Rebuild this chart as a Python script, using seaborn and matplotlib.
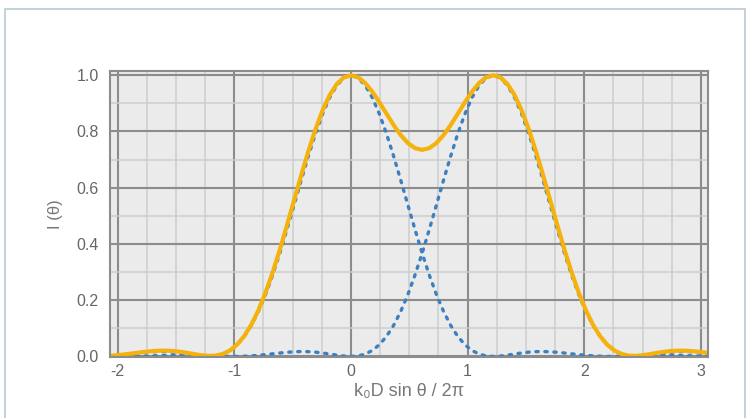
import numpy as np
import pandas as pd
import matplotlib
matplotlib.use("Agg")
import matplotlib.pyplot as plt
from matplotlib.patches import Rectangle
from matplotlib.ticker import MultipleLocator
import seaborn as sns

# sample positions along k0 D sin(theta) / 2pi
x_vals = [-2.074, -2.013, -1.952, -1.891, -1.830, -1.769, -1.708, -1.647, -1.586, -1.525,
          -1.464, -1.403, -1.342, -1.281, -1.220, -1.159, -1.098, -1.037, -0.976, -0.915,
          -0.854, -0.793, -0.732, -0.671, -0.610, -0.549, -0.488, -0.427, -0.366, -0.305,
          -0.244, -0.183, -0.122, -0.061, 0.000, 0.061, 0.122, 0.183, 0.244, 0.305,
          0.366, 0.427, 0.488, 0.549, 0.610, 0.671, 0.732, 0.793, 0.854, 0.915,
          0.976, 1.037, 1.098, 1.159, 1.220, 1.281, 1.342, 1.403, 1.464, 1.525,
          1.586, 1.647, 1.708, 1.769, 1.830, 1.891, 1.952, 2.013, 2.074, 2.135,
          2.196, 2.257, 2.318, 2.379, 2.440, 2.501, 2.562, 2.623, 2.684, 2.745,
          2.806, 2.867, 2.928, 2.989, 3.050, 3.111]

# source centred at 0 (dotted)
source_a = [0.0021, 0.0041, 0.0066, 0.0094, 0.0122, 0.0148, 0.0166, 0.0175, 0.0171, 0.0154,
            0.0124, 0.0087, 0.0047, 0.0014, 0.0000, 0.0018, 0.0084, 0.0213, 0.0419, 0.0715,
            0.1109, 0.1606, 0.2205, 0.2898, 0.3673, 0.4509, 0.5382, 0.6262, 0.7116, 0.7913,
            0.8618, 0.9202, 0.9638, 0.9909, 1.0000, 0.9909, 0.9638, 0.9202, 0.8618, 0.7913,
            0.7116, 0.6262, 0.5382, 0.4509, 0.3673, 0.2898, 0.2205, 0.1606, 0.1109, 0.0715,
            0.0419, 0.0213, 0.0084, 0.0018, 0.0000, 0.0014, 0.0047, 0.0087, 0.0124, 0.0154,
            0.0171, 0.0175, 0.0166, 0.0148, 0.0122, 0.0094, 0.0066, 0.0041, 0.0021, 0.0008,
            0.0001, 0.0000, 0.0005, 0.0012, 0.0021, 0.0029, 0.0036, 0.0040, 0.0042, 0.0040,
            0.0036, 0.0029, 0.0022, 0.0015, 0.0009, 0.0004]

# source centred at 1.22 (dotted)
source_b = [0.0001, 0.0000, 0.0001, 0.0004, 0.0009, 0.0015, 0.0022, 0.0029, 0.0036, 0.0040,
            0.0042, 0.0040, 0.0036, 0.0029, 0.0021, 0.0012, 0.0005, 0.0000, 0.0001, 0.0008,
            0.0021, 0.0041, 0.0066, 0.0094, 0.0122, 0.0148, 0.0166, 0.0175, 0.0171, 0.0154,
            0.0124, 0.0087, 0.0047, 0.0014, 0.0000, 0.0018, 0.0084, 0.0213, 0.0419, 0.0715,
            0.1109, 0.1606, 0.2205, 0.2898, 0.3673, 0.4509, 0.5382, 0.6262, 0.7116, 0.7913,
            0.8618, 0.9202, 0.9638, 0.9909, 1.0000, 0.9909, 0.9638, 0.9202, 0.8618, 0.7913,
            0.7116, 0.6262, 0.5382, 0.4509, 0.3673, 0.2898, 0.2205, 0.1606, 0.1109, 0.0715,
            0.0419, 0.0213, 0.0084, 0.0018, 0.0000, 0.0014, 0.0047, 0.0087, 0.0124, 0.0154,
            0.0171, 0.0175, 0.0166, 0.0148, 0.0122, 0.0094]

# combined intensity (solid)
combined = [0.0022, 0.0041, 0.0067, 0.0098, 0.0131, 0.0163, 0.0188, 0.0204, 0.0207, 0.0194,
            0.0166, 0.0127, 0.0083, 0.0043, 0.0021, 0.0030, 0.0089, 0.0213, 0.0420, 0.0723,
            0.1130, 0.1647, 0.2271, 0.2992, 0.3795, 0.4657, 0.5548, 0.6437, 0.7287, 0.8067,
            0.8742, 0.9289, 0.9685, 0.9923, 1.0000, 0.9927, 0.9722, 0.9415, 0.9037, 0.8628,
            0.8225, 0.7868, 0.7587, 0.7407, 0.7346, 0.7407, 0.7587, 0.7868, 0.8225, 0.8628,
            0.9037, 0.9415, 0.9722, 0.9927, 1.0000, 0.9923, 0.9685, 0.9289, 0.8742, 0.8067,
            0.7287, 0.6437, 0.5548, 0.4657, 0.3795, 0.2992, 0.2271, 0.1647, 0.1130, 0.0723,
            0.0420, 0.0213, 0.0089, 0.0030, 0.0021, 0.0043, 0.0083, 0.0127, 0.0166, 0.0194,
            0.0207, 0.0204, 0.0188, 0.0163, 0.0131, 0.0098]

x_ticks = [-2, -1, 0, 1, 2, 3]
y_ticks = [0.0, 0.2, 0.4, 0.6, 0.8, 1.0]

sns.set_style("white")
plt.rcParams["font.family"] = ["Liberation Sans", "DejaVu Sans"]

fig = plt.figure(figsize=(7.52, 4.18), dpi=100)
ax = fig.add_axes([0.1463, 0.1459, 0.7952, 0.6842])
ax.set_facecolor("#ebebeb")

# outer frame of the figure
fig.patches.append(Rectangle((5 / 752, -0.05), 740 / 752, 1.0285, transform=fig.transFigure,
                             fill=False, edgecolor="#b9c9d5", linewidth=1.2))

blue = "#3d80c0"
orange = "#f6b20c"
dots = (0, (0.7, 2.0))
sns.lineplot(x=x_vals, y=source_a, ax=ax, color=blue, linewidth=2.4,
             linestyle=dots, dash_capstyle="round", sort=False)
sns.lineplot(x=x_vals, y=source_b, ax=ax, color=blue, linewidth=2.4,
             linestyle=dots, dash_capstyle="round", sort=False)
sns.lineplot(x=x_vals, y=combined, ax=ax, color=orange, linewidth=3.0, sort=False)

ax.set_xlim(-2.065, 3.06)
ax.set_ylim(-0.002, 1.015)
ax.set_xticks(x_ticks)
ax.set_xticklabels([str(t) for t in x_ticks])
ax.set_yticks(y_ticks)
ax.set_yticklabels([f"{t:.1f}" for t in y_ticks])
ax.xaxis.set_minor_locator(MultipleLocator(0.25))
ax.yaxis.set_minor_locator(MultipleLocator(0.1))
ax.grid(which="major", color="#8c8c8c", linewidth=1.5)
ax.grid(which="minor", color="#cdcdcd", linewidth=1.1)
ax.set_axisbelow(True)
ax.tick_params(which="both", length=0, labelsize=11.5, labelcolor="#666666")
ax.tick_params(axis="y", pad=8)
ax.tick_params(axis="x", pad=5)
for s in ax.spines.values():
    s.set_color("#8c8c8c")
    s.set_linewidth(1.5)

ax.set_xlabel("k\u2080D sin \u03b8 / 2\u03c0", fontsize=13, color="#777777", labelpad=3)
ax.set_ylabel("I (\u03b8)", fontsize=12, color="#777777", labelpad=10)

fig.savefig("out.png", dpi=100)
